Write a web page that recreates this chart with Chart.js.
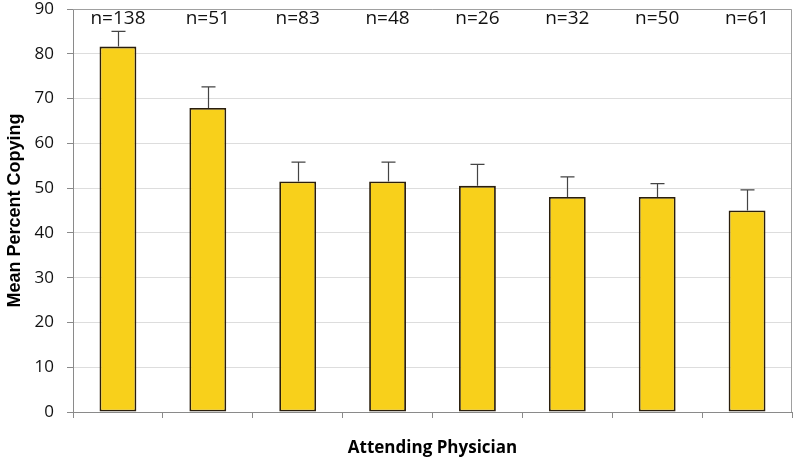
<!DOCTYPE html>
<html>
<head>
<meta charset="utf-8">
<script src="https://cdn.jsdelivr.net/npm/chart.js@4.4.1/dist/chart.umd.min.js"></script>
<style>
  html, body { margin: 0; padding: 0; background: #fff; }
  #wrap { width: 800px; height: 466px; }
</style>
</head>
<body>
<div id="wrap"><canvas id="chart" width="800" height="466"></canvas></div>
<script>
// data
const physicians = ['1', '2', '3', '4', '5', '6', '7', '8'];
const meanCopying = [81.6, 67.9, 51.5, 51.5, 50.5, 48.0, 48.0, 45.0];
const errorUp = [3.4, 4.7, 4.3, 4.3, 4.8, 4.5, 3.0, 4.6];
const counts = [138, 51, 83, 48, 26, 32, 50, 61];
const yTicks = [0, 10, 20, 30, 40, 50, 60, 70, 80, 90];

// frame on top and right of plot area
const frame = {
    id: 'frame',
    beforeDatasetsDraw(chart) {
        const { ctx, chartArea: a } = chart;
        ctx.save();
        ctx.strokeStyle = '#a0a0a0';
        ctx.lineWidth = 1;
        ctx.beginPath();
        ctx.moveTo(a.left, a.top + 0.5);
        ctx.lineTo(a.right - 0.5, a.top + 0.5);
        ctx.lineTo(a.right - 0.5, a.bottom);
        ctx.stroke();
        ctx.restore();
    }
};

// upper error bars and n= labels
const extras = {
    id: 'extras',
    afterDatasetsDraw(chart) {
        const { ctx, scales: { x, y } } = chart;
        ctx.save();
        ctx.strokeStyle = '#444';
        ctx.lineWidth = 1.2;
        meanCopying.forEach((v, i) => {
            const cx = Math.round(x.getPixelForValue(i)) + 0.5;
            const y0 = y.getPixelForValue(v);
            const y1 = y.getPixelForValue(v + errorUp[i]);
            ctx.beginPath();
            ctx.moveTo(cx, y0);
            ctx.lineTo(cx, y1);
            ctx.moveTo(cx - 7, y1);
            ctx.lineTo(cx + 7, y1);
            ctx.stroke();
        });
        ctx.fillStyle = '#111';
        ctx.font = '19px "Open Sans"';
        ctx.textAlign = 'center';
        ctx.textBaseline = 'middle';
        counts.forEach((n, i) => {
            ctx.fillText('n=' + n, x.getPixelForValue(i), y.getPixelForValue(87.9));
        });
        ctx.restore();
    }
};

new Chart(document.getElementById('chart'), {
    type: 'bar',
    data: {
        labels: physicians,
        datasets: [{
            data: meanCopying,
            backgroundColor: '#F8D01B',
            borderColor: '#2a1e0c',
            borderWidth: 1.8,
            borderSkipped: false,
            categoryPercentage: 1,
            barPercentage: 0.41
        }]
    },
    options: {
        responsive: false,
        animation: false,
        layout: { padding: { top: 9, right: 8, left: 0, bottom: 0 } },
        plugins: {
            legend: { display: false },
            tooltip: { enabled: false }
        },
        scales: {
            x: {
                afterFit: s => { s.height = 54; s.paddingLeft = 0; s.paddingRight = 0; },
                grid: {
                    offset: true,
                    drawOnChartArea: false,
                    drawTicks: true,
                    tickLength: 6,
                    color: '#8a8a8a'
                },
                border: { color: '#8a8a8a', width: 1 },
                ticks: { display: false },
                title: {
                    display: true,
                    text: 'Attending Physician',
                    color: '#000',
                    font: { family: '"Open Sans"', size: 17, weight: 'bold' },
                    padding: { top: 0, bottom: 8 }
                }
            },
            y: {
                min: 0,
                max: 90,
                afterFit: s => { s.width = 73; s.paddingTop = 0; s.paddingBottom = 0; },
                afterBuildTicks: s => { s.ticks = yTicks.map(v => ({ value: v })); },
                grid: {
                    color: '#dddddd',
                    tickColor: '#8a8a8a',
                    tickLength: 6
                },
                border: { color: '#8a8a8a', width: 1 },
                ticks: {
                    color: '#111',
                    padding: 13,
                    font: { family: '"Open Sans"', size: 17 }
                },
                title: {
                    display: true,
                    text: 'Mean Percent Copying',
                    color: '#000',
                    font: { family: '"Liberation Sans"', size: 18, weight: 'bold' },
                    padding: { top: 4, bottom: 0 }
                }
            }
        }
    },
    plugins: [frame, extras]
});
</script>
</body>
</html>
